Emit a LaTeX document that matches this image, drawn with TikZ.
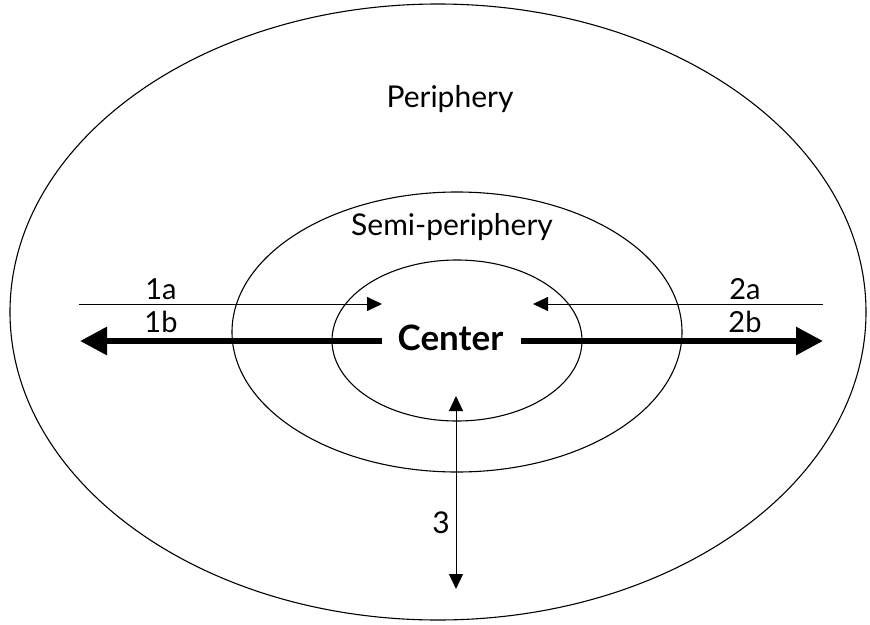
\documentclass[tikz,border=0pt]{standalone}
\usepackage{fontspec}
\setmainfont{Lato}
\usetikzlibrary{shapes.geometric,arrows.meta}

\tikzset{
  ring/.style={ellipse, draw, line width=1.1pt, inner sep=0pt},
  flow/.style={line width=1pt, -{Triangle[length=15pt,width=14pt]}},
  bigflow/.style={line width=6pt, -{Triangle[length=27pt,width=27pt]}},
  lbl/.style={font=\fontsize{29}{31}\selectfont},
  biglbl/.style={font=\fontsize{30}{32}\selectfont}
}

\begin{document}
\begin{tikzpicture}[x=1pt, y=-1pt]
  \useasboundingbox (0,0) rectangle (870,624);
  % --- rings ---
  \node[ring, minimum width=856pt, minimum height=616pt] (outer) at (438,312) {};
  \node[ring, minimum width=450pt, minimum height=280pt] (semi) at (457,332) {};
  \node[ring, minimum width=250pt, minimum height=161pt] (core) at (457,340.5) {};
  % --- ring names ---
  \node[biglbl, anchor=base] (pername) at (450,107) {Periphery};
  \node[biglbl, anchor=base] (seminame) at (452,235) {Semi-periphery};
  \node[font=\fontsize{35}{37}\selectfont\bfseries, anchor=base] (center) at (450.5,350) {Center};
  % --- end points ---
  \coordinate (a1s) at (79,304);   \coordinate (a1e) at (382,304);
  \coordinate (a2s) at (823,304);  \coordinate (a2e) at (533,304);
  \coordinate (b1s) at (382,341);  \coordinate (b1e) at (80,341);
  \coordinate (b2s) at (521,341);  \coordinate (b2e) at (823,341);
  \coordinate (v3t) at (456,396);  \coordinate (v3b) at (456,589);
  % --- flows ---
  \draw[flow] (a1s) -- (a1e);
  \draw[flow] (a2s) -- (a2e);
  \draw[bigflow] (b1s) -- (b1e);
  \draw[bigflow] (b2s) -- (b2e);
  \draw[flow, {Triangle[length=15pt,width=14pt]}-{Triangle[length=15pt,width=14pt]}] (v3t) -- (v3b);
  % --- flow labels ---
  \node[lbl, anchor=base] (l1a) at (161,299) {1a};
  \node[lbl, anchor=base] (l1b) at (161,332) {1b};
  \node[lbl, anchor=base] (l2a) at (745,299) {2a};
  \node[lbl, anchor=base] (l2b) at (745,332) {2b};
  \node[biglbl, anchor=base] (l3) at (441,533) {3};
\end{tikzpicture}
\end{document}
